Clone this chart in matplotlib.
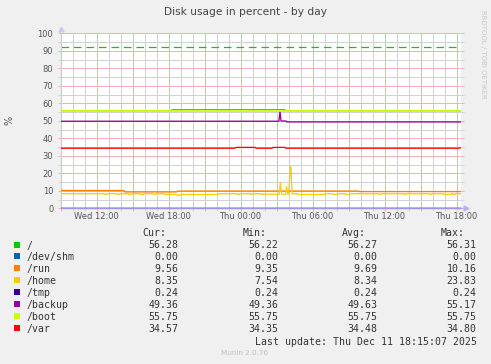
import matplotlib
matplotlib.use("Agg")
import matplotlib.pyplot as plt
from matplotlib.ticker import MultipleLocator, NullFormatter
from matplotlib.patches import Rectangle

W, H, DPI = 491, 364, 100
BG = "#F0F0F0"

# time axis in hours from Wed 00:00
T_START, T_END = 9.0, 42.333
xtick_pos = [12, 18, 24, 30, 36, 42]
xtick_labels = ["Wed 12:00", "Wed 18:00", "Thu 00:00", "Thu 06:00", "Thu 12:00", "Thu 18:00"]

names = ["/", "/dev/shm", "/run", "/home", "/tmp", "/backup", "/boot", "/var"]
colors = ["#00CC00", "#0066B3", "#FF8000", "#FFCC00", "#330099", "#990099", "#CCFF00", "#FF0000"]
cur = ["56.28", "0.00", "9.56", "8.35", "0.24", "49.36", "55.75", "34.57"]
mins = ["56.22", "0.00", "9.35", "7.54", "0.24", "49.36", "55.75", "34.35"]
avgs = ["56.27", "0.00", "9.69", "8.34", "0.24", "49.63", "55.75", "34.48"]
maxs = ["56.31", "0.00", "10.16", "23.83", "0.24", "55.17", "55.75", "34.80"]

root_warning = 92

# breakpoints (hour, value)
root_t = [9.0, 18.2, 18.28, 27.7, 27.78, 42.333]
root_v = [55.75, 55.75, 56.4, 56.4, 55.75, 55.75]

shm_t = [9.0, 42.333]
shm_v = [0.0, 0.0]

run_t = [9.0, 14.29, 14.37, 18.68, 18.76, 33.8, 33.88, 42.333]
run_v = [10.16, 10.16, 9.35, 9.35, 9.85, 9.85, 9.56, 9.56]

home_t = [9.0, 12.62, 12.7, 12.8, 12.88, 13.7, 13.78, 13.88, 13.96,
          14.65, 14.73, 14.9, 14.98, 15.65, 15.73, 15.88, 15.96,
          16.7, 16.78, 16.9, 16.98, 17.6, 17.68, 18.62, 18.7, 19.0, 19.08,
          22.05, 22.13, 23.75, 23.8, 23.9, 23.95, 24.8, 24.85, 24.95, 25.0,
          25.75, 25.8, 25.9, 25.95, 26.0, 26.08,
          27.22, 27.32, 27.42, 27.75, 27.85, 27.93, 28.02, 28.14, 28.2, 28.3,
          28.75, 28.83, 31.0, 31.08, 31.7, 31.78, 32.0, 32.08, 32.7, 32.78, 33.05, 33.13,
          33.8, 33.88, 34.0, 34.08, 35.55, 35.6, 35.7, 35.75, 37.65, 37.7, 37.8, 37.85,
          39.75, 39.8, 39.9, 39.95, 40.9, 40.98, 41.5, 41.58, 41.7, 41.75, 41.85, 41.9, 42.333]
home_v = [8.35, 8.35, 7.9, 7.9, 8.35, 8.35, 7.9, 7.9, 8.35,
          8.35, 7.9, 7.9, 8.35, 8.35, 7.9, 7.9, 8.35,
          8.35, 7.9, 7.9, 8.35, 8.35, 7.9, 7.9, 7.54, 7.54, 7.9,
          7.9, 8.35, 8.35, 7.9, 7.9, 8.35, 8.35, 7.9, 7.9, 8.35,
          8.35, 7.9, 7.9, 8.35, 8.35, 8.05,
          8.05, 14.6, 8.05, 8.05, 12.3, 8.05, 8.05, 23.83, 23.0, 8.35,
          8.35, 7.9, 7.9, 8.35, 8.35, 7.9, 7.9, 8.35, 8.35, 7.9, 7.9, 8.35,
          8.35, 8.35, 8.35, 8.35, 8.35, 7.9, 7.9, 8.35, 8.35, 7.9, 7.9, 8.35,
          8.35, 7.9, 7.9, 8.35, 8.35, 7.9, 7.9, 8.35, 8.35, 7.9, 7.9, 8.35, 8.35]

tmp_t = [9.0, 42.333]
tmp_v = [0.24, 0.24]

backup_t = [9.0, 27.2, 27.29, 27.38, 27.77, 27.85, 42.333]
backup_v = [49.75, 49.75, 55.17, 49.9, 49.9, 49.36, 49.36]

boot_t = [9.0, 42.333]
boot_v = [55.75, 55.75]

var_t = [9.0, 23.54, 23.62, 25.21, 25.29, 26.63, 26.71, 27.7, 27.78, 42.2, 42.333]
var_v = [34.35, 34.35, 34.8, 34.8, 34.35, 34.35, 34.8, 34.8, 34.35, 34.35, 34.57]

series = [(root_t, root_v), (shm_t, shm_v), (run_t, run_v), (home_t, home_v),
          (tmp_t, tmp_v), (backup_t, backup_v), (boot_t, boot_v), (var_t, var_v)]
# "/" sits under /boot most of the day, so /boot is drawn a bit wider to hide it
line_widths = [0.6, 0.95, 0.95, 0.95, 0.95, 0.95, 1.3, 0.95]


def fx(px):
    return px / W


def fy(py):
    return 1 - py / H


fig = plt.figure(figsize=(W / DPI, H / DPI), dpi=DPI, facecolor=BG)
ax = fig.add_axes([fx(60.5), fy(208.3), 400 / W, 175 / H])
ax.set_facecolor("white")

ax.set_xlim(T_START, T_END)
ax.set_ylim(0, 100)

# grid: red majors, grey minors, all dotted
GRID_MINOR = "#d2d2d2"
GRID_MAJOR = "#f6b0b0"
ax.xaxis.set_major_locator(MultipleLocator(3))
ax.xaxis.set_minor_locator(MultipleLocator(1))
ax.yaxis.set_major_locator(MultipleLocator(10))
ax.yaxis.set_minor_locator(MultipleLocator(5))
ax.grid(which="minor", color=GRID_MINOR, lw=0.72, linestyle=(0, (1, 1)), antialiased=False)
ax.grid(which="major", color=GRID_MAJOR, lw=0.72, linestyle=(0, (1, 1)), antialiased=False)
ax.set_axisbelow(True)

ax.xaxis.set_major_formatter(NullFormatter())
ax.xaxis.set_minor_formatter(NullFormatter())
ax.yaxis.set_minor_formatter(NullFormatter())
ax.set_yticks(range(0, 101, 10))
ax.set_yticklabels([str(v) for v in range(0, 101, 10)])

ax.tick_params(which="major", axis="both", length=2, width=0.72,
               color=GRID_MAJOR, labelcolor="#555555", labelsize=6)
ax.tick_params(which="minor", axis="both", length=2, width=0.72, color=GRID_MINOR)
ax.tick_params(axis="y", which="both", right=True, pad=3.2)

for t, lab in zip(xtick_pos, xtick_labels):
    ax.text(t, -0.02, lab, transform=ax.get_xaxis_transform(), ha="center", va="top",
            fontsize=6, color="#555555")

for s in ["top", "right"]:
    ax.spines[s].set_visible(False)
ax.spines["left"].set_color("#c8c8f4")
ax.spines["left"].set_linewidth(0.8)
ax.spines["bottom"].set_color("#a294e0")
ax.spines["bottom"].set_linewidth(1.0)
ax.spines["bottom"].set_zorder(5)

# axis arrows
ax.plot([0], [1.025], marker="^", ms=3.5, color="#c8c8f4", transform=ax.transAxes, clip_on=False)
ax.plot([1.013], [0], marker=">", ms=3.5, color="#b4b4f4", transform=ax.transAxes, clip_on=False)

ax.axhline(root_warning, color=colors[0], lw=0.9, linestyle=(0, (6, 4)), zorder=2)

for (t, v), c, lw in zip(series, colors, line_widths):
    ax.plot(t, v, color=c, lw=lw, zorder=3)

# title and side texts
fig.text(0.5, fy(15), "Disk usage in percent - by day", ha="center", va="baseline",
         fontsize=7.7, color="#444444")
fig.text(fx(9.3), fy(120), "%", rotation=90, ha="center", va="center",
         fontsize=7, color="#555555")
fig.text(fx(483.5), fy(54), "RRDTOOL / TOBI OETIKER", rotation=270, ha="center",
         va="center", fontsize=5, color="#c8c8c8")

# legend table
mono = dict(family="DejaVu Sans Mono", fontsize=7.1, color="#333333", va="baseline")
head_x = [166, 266.7, 365.7, 464.3]
col_x = [178.7, 278.7, 377.7, 476.7]
for x, h in zip(head_x, ["Cur:", "Min:", "Avg:", "Max:"]):
    fig.text(fx(x), fy(235.7), h, ha="right", **mono)

for i, name in enumerate(names):
    base = 248.5 + 11.95 * i
    fig.patches.append(Rectangle((fx(14), fy(base - 1)), 6 / W, 6 / H,
                                 transform=fig.transFigure, facecolor=colors[i],
                                 edgecolor="none"))
    fig.text(fx(26.7), fy(base), name, ha="left", **mono)
    for x, val in zip(col_x, [cur[i], mins[i], avgs[i], maxs[i]]):
        fig.text(fx(x), fy(base), val, ha="right", **mono)

fig.text(fx(476.7), fy(345), "Last update: Thu Dec 11 18:15:07 2025", ha="right", **mono)
fig.text(fx(245), fy(355), "Munin 2.0.76", ha="center", va="baseline",
         fontsize=5.2, color="#c0c0c0")

fig.savefig("out.png", dpi=DPI, facecolor=BG)
